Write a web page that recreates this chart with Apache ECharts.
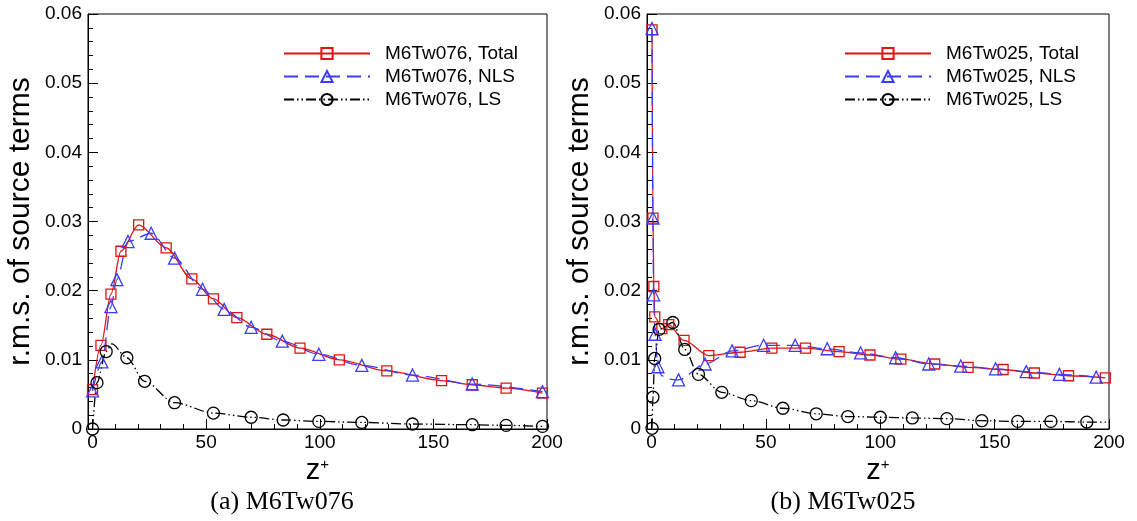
<!DOCTYPE html>
<html>
<head>
<meta charset="utf-8">
<script src="https://cdn.jsdelivr.net/npm/echarts@6/dist/echarts.min.js"></script>
<style>
  html, body { margin: 0; padding: 0; background: #fff; }
  #chart { width: 1137px; height: 521px; }
</style>
</head>
<body>
<div id="chart"></div>
<script>
// ---- data: z+ positions and r.m.s. values of the source terms ----
// marks: 1 = symbol drawn at the point, 0 = point only on the curve

// (a) M6Tw076
const zA_total   = [0, 3.7, 8.1, 12.5, 20.3, 32.4, 43.7, 53.2, 63.5, 76.7, 91.3, 108.6, 129.5, 153.6, 167.1, 182, 198];
const rmsA_total = [0.0057, 0.0121, 0.0195, 0.0257, 0.0295, 0.0262, 0.0217, 0.0188, 0.0161, 0.0137, 0.0117, 0.0100, 0.0084, 0.0070, 0.0064, 0.0059, 0.0052];

const zA_nls   = [0, 4.1, 8.1, 10.7, 15.6, 25.8, 36.1, 48.4, 57.9, 69.8, 83.5, 99.6, 118.5, 140.8, 167.1, 198];
const rmsA_nls = [0.0055, 0.0097, 0.0177, 0.0216, 0.0271, 0.0283, 0.0247, 0.0202, 0.0173, 0.0147, 0.0127, 0.0108, 0.0092, 0.0078, 0.0065, 0.0054];

const zA_ls     = [0, 1.95, 6.0, 8.5, 15.1, 22.9, 36.1, 53.2, 69.8, 83.9, 99.6, 118.5, 140.8, 167.1, 182, 198];
const rmsA_ls   = [0, 0.0067, 0.0112, 0.0123, 0.0103, 0.0069, 0.0038, 0.0023, 0.0017, 0.0013, 0.0011, 0.00095, 0.00072, 0.00062, 0.00052, 0.00038];
const marksA_ls = [1, 1, 1, 0, 1, 1, 1, 1, 1, 1, 1, 1, 1, 1, 1, 1];

// (b) M6Tw025
const zB_total   = [0.2, 0.6, 1.0, 1.4, 4.5, 7.5, 14.2, 25, 38.7, 52.6, 67.3, 82, 95.5, 109, 123.8, 138.4, 153.7, 167.4, 182.3, 198.4];
const rmsB_total = [0.0577, 0.0305, 0.0206, 0.0162, 0.0145, 0.0151, 0.0128, 0.0106, 0.0111, 0.0117, 0.0117, 0.0112, 0.0107, 0.0101, 0.0094, 0.0089, 0.0086, 0.0081, 0.0077, 0.0074];

const zB_nls     = [0.2, 0.6, 0.9, 1.5, 2.8, 4.5, 7.5, 11.8, 23.4, 35.2, 49, 62.8, 76.8, 91.4, 106.7, 121.2, 135.2, 150.4, 163.8, 178.3, 194.4];
const rmsB_nls   = [0.0579, 0.0305, 0.0194, 0.0137, 0.0090, 0.0077, 0.0072, 0.0071, 0.0094, 0.0113, 0.0121, 0.0121, 0.0116, 0.0110, 0.0103, 0.0094, 0.0091, 0.0087, 0.0083, 0.0079, 0.0075];
const marksB_nls = [1, 1, 1, 1, 1, 0, 0, 1, 1, 1, 1, 1, 1, 1, 1, 1, 1, 1, 1, 1, 1];

const zB_ls     = [0.2, 0.6, 1.35, 3.3, 9.3, 14.5, 20.5, 30.7, 43.6, 57.4, 72, 85.8, 100, 114, 129.1, 144.4, 160.1, 174.6, 190.3, 200];
const rmsB_ls   = [0.0001, 0.0046, 0.0102, 0.0144, 0.0154, 0.0115, 0.0079, 0.0053, 0.0041, 0.0030, 0.0022, 0.0018, 0.0017, 0.0016, 0.0015, 0.0012, 0.0011, 0.0011, 0.0010, 0.00098];
const marksB_ls = [1, 1, 1, 1, 1, 1, 1, 1, 1, 1, 1, 1, 1, 1, 1, 1, 1, 1, 1, 0];

const namesA = ['M6Tw076, Total', 'M6Tw076, NLS', 'M6Tw076, LS'];
const namesB = ['M6Tw025, Total', 'M6Tw025, NLS', 'M6Tw025, LS'];
const captions = ['(a) M6Tw076', '(b) M6Tw025'];

// axis ticks
const xMajorTicks = [0, 50, 100, 150, 200];
const xMinorTicks = [10, 20, 30, 40, 60, 70, 80, 90, 110, 120, 130, 140, 160, 170, 180, 190];
const yMin = 0, yMax = 0.06, yStep = 0.01;

// ---- styles ----
const SANS = "'Liberation Sans', Arial, Helvetica, sans-serif";
const SERIF = "'Liberation Serif', 'Times New Roman', serif";
const STYLE = {
  total: { color: '#dd1515', symbol: 'rect',     size: 10, dash: 'solid' },
  nls:   { color: '#3c3cff', symbol: 'triangle', size: 12, dash: [14, 7] },
  ls:    { color: '#000000', symbol: 'circle',   size: 12, dash: [10, 3, 1.5, 3, 1.5, 3] }
};

function points(xs, ys, marks) {
  return xs.map((x, i) =>
    (marks && marks[i] === 0) ? { value: [x, ys[i]], symbol: 'none' } : [x, ys[i]]);
}

function curve(name, kind, panel, xs, ys, marks) {
  const st = STYLE[kind];
  return {
    type: 'line',
    name: name,
    xAxisIndex: panel * 2,
    yAxisIndex: panel,
    data: points(xs, ys, marks),
    smooth: 0.3,
    smoothMonotone: 'x',
    symbol: st.symbol,
    symbolSize: st.size,
    showAllSymbol: true,
    lineStyle: { color: st.color, width: 1.3, type: st.dash },
    itemStyle: { color: 'rgba(255,255,255,0)', borderColor: st.color, borderWidth: 1.3 },
    emphasis: { disabled: true },
    silent: true
  };
}

const grids = [
  { left: 88,  top: 14, width: 459, height: 415 },
  { left: 647, top: 14, width: 462, height: 415 }
];

const xAxes = [];
const yAxes = [];
grids.forEach((g, i) => {
  xAxes.push({
    type: 'value', gridIndex: i, min: -2, max: 200, position: 'bottom',
    axisLine: { show: true, onZero: false, lineStyle: { color: '#000', width: 1 } },
    axisTick: { show: true, inside: true, length: 10, customValues: xMajorTicks, lineStyle: { color: '#000' } },
    axisLabel: { customValues: xMajorTicks, margin: 4, fontSize: 19, fontFamily: SANS, color: '#000' },
    splitLine: { show: false },
    name: '{z|z}{s|+}',
    nameLocation: 'middle',
    nameGap: 21,
    nameTextStyle: {
      rich: {
        z: { fontSize: 29, fontFamily: SANS, color: '#000' },
        s: { fontSize: 15, fontFamily: SANS, color: '#000', verticalAlign: 'top' }
      }
    }
  });
  xAxes.push({
    type: 'value', gridIndex: i, min: -2, max: 200, position: 'bottom',
    axisLine: { show: false },
    axisTick: { show: true, inside: true, length: 5, customValues: xMinorTicks, lineStyle: { color: '#000' } },
    axisLabel: { show: false },
    splitLine: { show: false }
  });
  yAxes.push({
    type: 'value', gridIndex: i, min: yMin, max: yMax, interval: yStep,
    axisLine: { show: true, onZero: false, lineStyle: { color: '#000', width: 1 } },
    axisTick: { show: true, inside: true, length: 10, lineStyle: { color: '#000' } },
    minorTick: { show: true, splitNumber: 5, length: 5, lineStyle: { color: '#000', width: 1 } },
    axisLabel: {
      margin: 6, fontSize: 19, fontFamily: SANS, color: '#000',
      formatter: v => (Math.abs(v) < 1e-12 ? '0' : v.toFixed(2))
    },
    splitLine: { show: false },
    name: 'r.m.s. of source terms',
    nameLocation: 'middle',
    nameRotate: 90,
    nameGap: 52,
    nameTextStyle: { fontSize: 30, fontFamily: SANS, color: '#000' }
  });
});

const legendBase = {
  orient: 'vertical', top: 44, padding: 0,
  itemWidth: 86, itemHeight: 14, itemGap: 4,
  selectedMode: false,
  textStyle: { fontSize: 19, fontFamily: SANS, color: '#000', padding: [0, 0, 0, 10] }
};

const option = {
  animation: false,
  backgroundColor: '#fff',
  grid: grids.map(g => Object.assign({ show: true, borderColor: '#000', borderWidth: 1, backgroundColor: 'transparent' }, g)),
  xAxis: xAxes,
  yAxis: yAxes,
  legend: [
    Object.assign({ left: 283, data: namesA }, legendBase),
    Object.assign({ left: 844, data: namesB }, legendBase)
  ],
  series: [
    curve(namesA[0], 'total', 0, zA_total, rmsA_total),
    curve(namesA[1], 'nls',   0, zA_nls,   rmsA_nls),
    curve(namesA[2], 'ls',    0, zA_ls,    rmsA_ls,  marksA_ls),
    curve(namesB[0], 'total', 1, zB_total, rmsB_total),
    curve(namesB[1], 'nls',   1, zB_nls,   rmsB_nls, marksB_nls),
    curve(namesB[2], 'ls',    1, zB_ls,    rmsB_ls,  marksB_ls)
  ],
  graphic: [
    { type: 'text', x: 282, y: 502, style: { text: captions[0], font: '26px ' + SERIF, fill: '#000', align: 'center', verticalAlign: 'middle' } },
    { type: 'text', x: 843, y: 502, style: { text: captions[1], font: '26px ' + SERIF, fill: '#000', align: 'center', verticalAlign: 'middle' } }
  ]
};

const chart = echarts.init(document.getElementById('chart'), null, { renderer: 'canvas' });
chart.setOption(option);
</script>
</body>
</html>
